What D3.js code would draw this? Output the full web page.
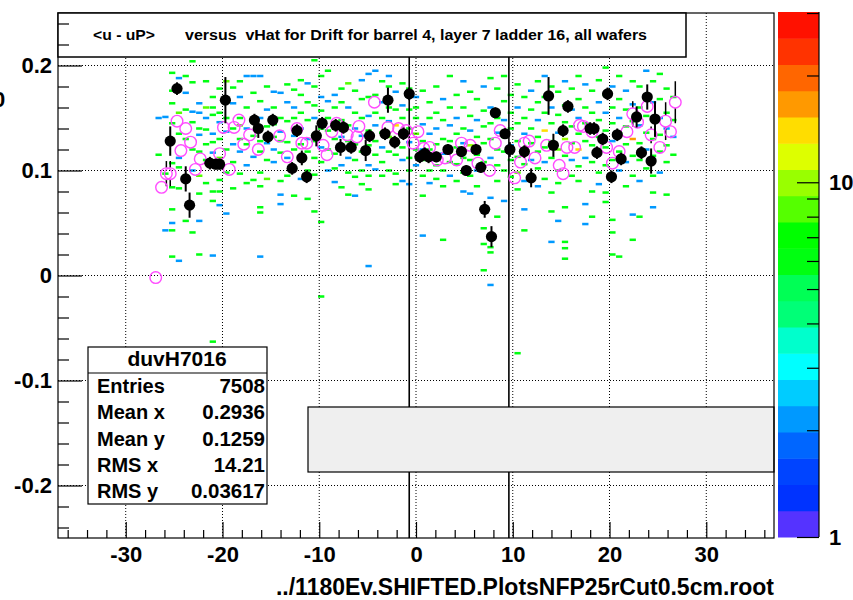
<!DOCTYPE html>
<html>
<head>
<meta charset="utf-8">
<script src="https://cdn.jsdelivr.net/npm/d3@7/dist/d3.min.js"></script>
<style>
  body { margin: 0; background: #fff; }
  text { font-family: "Liberation Sans", Arial, sans-serif; font-weight: bold; }
</style>
</head>
<body>
<script>
// ── data ──────────────────────────────────────────────────────────────────
var xTicks      = [-30, -20, -10, 0, 10, 20, 30];
var yTicks      = [-0.2, -0.1, 0, 0.1, 0.2];
var yTickLabels = ['-0.2', '-0.1', '0', '0.1', '0.2'];
var zMajor      = [1, 10];
var zMinor      = [2, 3, 4, 5, 6, 7, 8, 9, 20, 30];
var cutLines    = [-0.7, 9.6];

var titleLeft   = '<u - uP>';
var titleRight  = 'versus  vHat for Drift for barrel 4, layer 7 ladder 16, all wafers';
var xTitle      = '../1180Ev.SHIFTED.PlotsNFP25rCut0.5cm.root';
var statName    = 'duvH7016';
var statLabels  = ['Entries', 'Mean x', 'Mean y', 'RMS x', 'RMS y'];
var statValues  = ['7508', '0.2936', '0.1259', '14.21', '0.03617'];

// 2D histogram bins: [x, y, content]
var bins = [
  [-26.6,0.150,2],[-26.6,0.115,6],
  [-25.9,0.151,2],[-25.9,0.043,2],[-25.9,0.097,6],
  [-25.2,0.193,6],[-25.2,0.176,6],[-25.2,0.164,6],[-25.2,0.145,6],[-25.2,0.107,6],[-25.2,0.084,6],[-25.2,0.063,6],[-25.2,0.043,6],[-25.2,0.018,6],[-25.2,0.050,2],
  [-24.5,0.188,2],[-24.5,0.155,8.5],[-24.5,0.135,6],[-24.5,0.112,2],[-24.5,0.103,6],[-24.5,0.083,6],[-24.5,0.014,2],
  [-23.8,0.190,6],[-23.8,0.174,2],[-23.8,0.158,6],[-23.8,0.130,6],[-23.8,0.052,6],[-23.8,0.095,6],
  [-23.1,0.204,6],[-23.1,0.184,6],[-23.1,0.156,2],[-23.1,0.146,6],[-23.1,0.120,6],[-23.1,0.100,2],[-23.1,0.041,6],
  [-22.4,0.164,2],[-22.4,0.155,2],[-22.4,0.134,2],[-22.4,0.140,6],[-22.4,0.118,6],[-22.4,0.095,8.5],[-22.4,0.078,6],[-22.4,0.052,2],[-22.4,0.020,6],
  [-21.7,0.185,6],[-21.7,0.160,8.5],[-21.7,0.150,2],[-21.7,0.139,6],[-21.7,0.125,6],[-21.7,0.110,6],[-21.7,0.088,6],
  [-21.0,0.170,6],[-21.0,0.160,6],[-21.0,0.153,6],[-21.0,0.135,2],[-21.0,0.127,6],[-21.0,0.117,2],[-21.0,0.080,6],[-21.0,0.071,6],[-21.0,0.019,2],[-21.0,-0.063,6],
  [-20.3,0.178,6],[-20.3,0.155,6],[-20.3,0.146,2],[-20.3,0.130,6],[-20.3,0.112,8.5],[-20.3,0.091,6],[-20.3,0.080,6],[-20.3,0.067,2],
  [-19.6,0.185,8.5],[-19.6,0.150,6],[-19.6,0.137,2],[-19.6,0.120,6],[-19.6,0.098,6],[-19.6,0.059,2],
  [-18.9,0.179,6],[-18.9,0.164,2],[-18.9,0.140,6],[-18.9,0.125,2],[-18.9,0.108,6],[-18.9,0.083,6],
  [-18.2,0.185,6],[-18.2,0.170,2],[-18.2,0.150,6],[-18.2,0.143,8.5],[-18.2,0.130,6],[-18.2,0.118,2],[-18.2,0.097,6],
  [-17.5,0.190,2],[-17.5,0.160,6],[-17.5,0.140,2],[-17.5,0.125,6],[-17.5,0.105,2],[-17.5,0.088,6],
  [-16.8,0.190,2],[-16.8,0.174,6],[-16.8,0.146,6],[-16.8,0.133,6],[-16.8,0.113,2],[-16.8,0.091,6],
  [-16.1,0.190,2],[-16.1,0.166,6],[-16.1,0.150,2],[-16.1,0.128,6],[-16.1,0.118,6],[-16.1,0.098,6],[-16.1,0.085,6],[-16.1,0.065,6],[-16.1,0.060,6],[-16.1,0.018,2],
  [-15.4,0.180,6],[-15.4,0.158,2],[-15.4,0.142,6],[-15.4,0.126,2],[-15.4,0.110,6],[-15.4,0.092,8.5],
  [-14.7,0.175,2],[-14.7,0.160,6],[-14.7,0.144,6],[-14.7,0.132,6],[-14.7,0.120,2],[-14.7,0.108,2],
  [-14.0,0.174,2],[-14.0,0.150,6],[-14.0,0.137,2],[-14.0,0.128,6],[-14.0,0.117,6],[-14.0,0.090,6],[-14.0,0.077,2],[-14.0,0.068,2],
  [-13.3,0.182,6],[-13.3,0.165,2],[-13.3,0.147,6],[-13.3,0.127,6],[-13.3,0.112,2],[-13.3,0.095,6],
  [-12.6,0.177,6],[-12.6,0.160,2],[-12.6,0.150,6],[-12.6,0.133,2],[-12.6,0.120,6],[-12.6,0.102,6],[-12.6,0.076,6],
  [-11.9,0.186,6],[-11.9,0.172,6],[-11.9,0.155,6],[-11.9,0.140,2],[-11.9,0.125,6],[-11.9,0.110,6],[-11.9,0.092,2],
  [-11.2,0.183,2],[-11.2,0.165,6],[-11.2,0.148,6],[-11.2,0.130,2],[-11.2,0.118,6],[-11.2,0.100,6],[-11.2,0.073,6],
  [-10.5,0.205,6],[-10.5,0.180,6],[-10.5,0.162,6],[-10.5,0.150,2],[-10.5,0.128,6],[-10.5,0.112,6],[-10.5,0.096,6],[-10.5,0.061,6],
  [-9.8,0.190,6],[-9.8,0.170,2],[-9.8,0.157,6],[-9.8,0.140,6],[-9.8,0.122,2],[-9.8,0.108,6],[-9.8,0.051,6],[-9.8,-0.020,6],
  [-9.1,0.195,6],[-9.1,0.166,2],[-9.1,0.150,6],[-9.1,0.138,6],[-9.1,0.120,6],[-9.1,0.100,2],
  [-8.4,0.172,2],[-8.4,0.160,6],[-8.4,0.145,2],[-8.4,0.130,6],[-8.4,0.116,6],[-8.4,0.102,6],[-8.4,0.089,2],
  [-7.7,0.178,6],[-7.7,0.165,6],[-7.7,0.148,6],[-7.7,0.132,2],[-7.7,0.120,6],[-7.7,0.105,2],[-7.7,0.084,6],
  [-7.0,0.183,8.5],[-7.0,0.160,2],[-7.0,0.143,6],[-7.0,0.128,6],[-7.0,0.112,2],[-7.0,0.098,6],[-7.0,0.077,6],
  [-6.3,0.176,6],[-6.3,0.155,6],[-6.3,0.140,2],[-6.3,0.125,6],[-6.3,0.110,6],[-6.3,0.094,6],[-6.3,0.076,2],
  [-5.6,0.186,2],[-5.6,0.168,6],[-5.6,0.150,6],[-5.6,0.133,2],[-5.6,0.118,6],[-5.6,0.100,6],[-5.6,0.087,6],
  [-4.9,0.192,2],[-4.9,0.170,6],[-4.9,0.152,2],[-4.9,0.138,6],[-4.9,0.124,6],[-4.9,0.105,2],[-4.9,0.095,6],[-4.9,0.082,6],[-4.9,0.009,2],
  [-4.2,0.195,2],[-4.2,0.172,6],[-4.2,0.155,6],[-4.2,0.143,2],[-4.2,0.128,6],[-4.2,0.115,6],[-4.2,0.101,2],
  [-3.5,0.185,6],[-3.5,0.165,2],[-3.5,0.150,6],[-3.5,0.136,6],[-3.5,0.122,2],[-3.5,0.108,6],[-3.5,0.095,6],
  [-2.8,0.190,2],[-2.8,0.180,6],[-2.8,0.160,6],[-2.8,0.147,2],[-2.8,0.132,8.5],[-2.8,0.118,6],[-2.8,0.100,6],
  [-2.1,0.175,2],[-2.1,0.158,6],[-2.1,0.143,14],[-2.1,0.128,2],[-2.1,0.115,6],[-2.1,0.097,6],[-2.1,0.087,6],
  [-1.4,0.183,6],[-1.4,0.162,2],[-1.4,0.150,6],[-1.4,0.137,10],[-1.4,0.122,6],[-1.4,0.110,2],[-1.4,0.090,2],
  [-0.7,0.178,6],[-0.7,0.158,6],[-0.7,0.140,6],[-0.7,0.127,2],[-0.7,0.112,6],[-0.7,0.100,6],[-0.7,0.087,2],
  [0.0,0.170,2],[0.0,0.160,6],[0.0,0.150,6],[0.0,0.135,8.5],[0.0,0.120,6],[0.0,0.105,2],
  [0.7,0.176,6],[0.7,0.144,2],[0.7,0.128,6],[0.7,0.120,2],[0.7,0.110,6],[0.7,0.095,6],[0.7,0.076,6],[0.7,0.038,2],
  [1.4,0.165,6],[1.4,0.150,6],[1.4,0.135,2],[1.4,0.120,6],[1.4,0.110,2],[1.4,0.100,6],[1.4,0.088,2],
  [2.1,0.180,6],[2.1,0.155,6],[2.1,0.140,2],[2.1,0.125,6],[2.1,0.105,6],[2.1,0.092,6],
  [2.8,0.168,2],[2.8,0.148,6],[2.8,0.130,6],[2.8,0.116,2],[2.8,0.100,6],[2.8,0.085,6],[2.8,0.034,6],
  [3.5,0.190,6],[3.5,0.160,6],[3.5,0.143,2],[3.5,0.128,6],[3.5,0.118,8.5],[3.5,0.108,6],[3.5,0.095,2],
  [4.2,0.172,6],[4.2,0.150,2],[4.2,0.135,6],[4.2,0.122,6],[4.2,0.106,6],[4.2,0.090,6],
  [4.9,0.185,2],[4.9,0.160,6],[4.9,0.140,6],[4.9,0.126,2],[4.9,0.112,6],[4.9,0.098,6],[4.9,0.080,2],
  [5.6,0.175,6],[5.6,0.152,6],[5.6,0.138,2],[5.6,0.124,10],[5.6,0.110,6],[5.6,0.095,6],[5.6,0.078,2],
  [6.3,0.168,6],[6.3,0.148,2],[6.3,0.132,6],[6.3,0.115,6],[6.3,0.100,2],[6.3,0.085,6],
  [7.0,0.180,2],[7.0,0.157,6],[7.0,0.142,6],[7.0,0.126,6],[7.0,0.108,6],[7.0,0.045,6],[7.0,0.030,6],[7.0,0.005,6],
  [7.7,0.188,6],[7.7,0.160,2],[7.7,0.145,6],[7.7,0.130,6],[7.7,0.112,2],[7.7,0.074,2],[7.7,0.027,6],[7.7,0.022,6],[7.7,-0.009,2],
  [8.4,0.178,6],[8.4,0.150,6],[8.4,0.136,2],[8.4,0.120,6],[8.4,0.105,6],[8.4,0.090,6],[8.4,0.056,6],
  [9.1,0.190,6],[9.1,0.166,6],[9.1,0.148,2],[9.1,0.132,6],[9.1,0.118,6],[9.1,0.100,6],[9.1,0.071,2],
  [9.8,0.172,6],[9.8,0.155,6],[9.8,0.140,6],[9.8,0.124,2],[9.8,0.110,6],[9.8,0.094,6],
  [10.5,0.182,6],[10.5,0.160,2],[10.5,0.145,6],[10.5,0.128,6],[10.5,0.113,6],[10.5,0.098,8.5],[10.5,0.082,6],[10.5,-0.074,6],
  [11.2,0.170,6],[11.2,0.150,6],[11.2,0.135,2],[11.2,0.120,6],[11.2,0.106,6],[11.2,0.090,2],[11.2,0.063,2],[11.2,0.043,6],
  [11.9,0.176,2],[11.9,0.158,6],[11.9,0.140,6],[11.9,0.126,6],[11.9,0.110,2],[11.9,0.096,6],
  [12.6,0.185,6],[12.6,0.165,6],[12.6,0.148,2],[12.6,0.132,6],[12.6,0.118,6],[12.6,0.102,6],[12.6,0.085,2],
  [13.3,0.190,2],[13.3,0.170,6],[13.3,0.155,6],[13.3,0.138,14],[13.3,0.122,6],[13.3,0.108,2],[13.3,0.092,6],
  [14.0,0.180,6],[14.0,0.160,2],[14.0,0.145,6],[14.0,0.128,6],[14.0,0.112,6],[14.0,0.079,6],[14.0,0.061,6],[14.0,0.032,2],
  [14.7,0.175,6],[14.7,0.153,6],[14.7,0.136,2],[14.7,0.120,8.5],[14.7,0.100,6],[14.7,0.088,6],[14.7,0.052,2],
  [15.4,0.185,2],[15.4,0.162,6],[15.4,0.146,6],[15.4,0.130,10],[15.4,0.114,6],[15.4,0.065,6],[15.4,0.032,6],[15.4,0.026,6],[15.4,0.016,6],
  [16.1,0.178,6],[16.1,0.158,2],[16.1,0.142,6],[16.1,0.126,6],[16.1,0.110,2],[16.1,0.095,6],
  [16.8,0.190,6],[16.8,0.168,6],[16.8,0.150,2],[16.8,0.135,6],[16.8,0.120,14],[16.8,0.104,6],[16.8,0.090,6],
  [17.5,0.182,2],[17.5,0.160,6],[17.5,0.145,6],[17.5,0.128,6],[17.5,0.112,2],[17.5,0.068,2],[17.5,0.049,2],
  [18.2,0.176,6],[18.2,0.155,6],[18.2,0.140,2],[18.2,0.124,6],[18.2,0.108,6],[18.2,0.080,6],[18.2,0.056,6],
  [18.9,0.186,6],[18.9,0.165,2],[18.9,0.148,6],[18.9,0.132,6],[18.9,0.116,2],[18.9,0.098,6],[18.9,0.087,2],
  [19.6,0.198,6],[19.6,0.172,6],[19.6,0.155,2],[19.6,0.138,6],[19.6,0.122,6],[19.6,0.105,6],[19.6,0.079,6],[19.6,0.070,6],
  [20.3,0.180,2],[20.3,0.160,6],[20.3,0.145,6],[20.3,0.128,2],[20.3,0.110,6],[20.3,0.092,6],[20.3,0.053,6],[20.3,0.041,6],[20.3,0.020,6],
  [21.0,0.190,6],[21.0,0.168,6],[21.0,0.150,2],[21.0,0.135,6],[21.0,0.118,6],[21.0,0.100,2],[21.0,0.018,6],
  [21.7,0.176,2],[21.7,0.158,6],[21.7,0.142,6],[21.7,0.125,6],[21.7,0.108,2],[21.7,0.085,6],
  [22.4,0.185,6],[22.4,0.163,2],[22.4,0.147,6],[22.4,0.130,17],[22.4,0.114,6],[22.4,0.095,6],[22.4,0.058,2],[22.4,0.034,6],
  [23.1,0.180,6],[23.1,0.160,6],[23.1,0.143,2],[23.1,0.126,6],[23.1,0.110,6],[23.1,0.090,2],[23.1,0.056,6],
  [23.8,0.195,2],[23.8,0.170,6],[23.8,0.152,6],[23.8,0.136,6],[23.8,0.120,2],[23.8,0.102,6],
  [24.5,0.185,6],[24.5,0.165,2],[24.5,0.148,6],[24.5,0.130,6],[24.5,0.114,6],[24.5,0.095,6],[24.5,0.079,6],[24.5,0.065,2],
  [25.2,0.192,6],[25.2,0.168,6],[25.2,0.150,2],[25.2,0.134,6],[25.2,0.118,6],[25.2,0.098,2],
  [25.9,0.178,6],[25.9,0.155,6],[25.9,0.140,2],[25.9,0.124,6],[25.9,0.108,6],[25.9,0.077,6],
  [26.6,0.170,6],[26.6,0.148,6],[26.6,0.132,2],[26.6,0.115,6]
];

// black profile (filled markers)
var blackX   = [-25.4,-24.7,-23.8,-23.4,-21.3,-20.7,-20.3,-19.7,-16.7,-16.3,-15.3,-14.8,-12.8,-12.3,-11.8,-11.3,-10.3,-9.7,-8.3,-7.5,-7.8,-6.7,-5.2,-4.8,-3.2,-2.9,-2.2,-1.3,-0.7,
                0.4,0.9,1.3,2.1,3.3,4.7,5.2,6.2,6.7,7.1,7.8,8.2,9.2,9.7,11.2,11.9,13.7,14.2,15.2,15.7,18.0,18.4,18.7,19.3,19.8,20.2,20.8,21.2,22.8,23.3,23.9,24.3,24.7];
var blackY   = [0.128,0.178,0.092,0.067,0.107,0.106,0.106,0.167,0.148,0.140,0.132,0.148,0.102,0.138,0.112,0.094,0.133,0.145,0.143,0.141,0.122,0.122,0.119,0.133,0.135,0.167,0.127,0.135,0.173,
                0.113,0.116,0.113,0.113,0.120,0.118,0.100,0.120,0.103,0.063,0.037,0.155,0.135,0.120,0.118,0.093,0.171,0.124,0.138,0.161,0.140,0.140,0.117,0.130,0.173,0.094,0.134,0.111,0.151,0.117,0.170,0.109,0.149];
var blackErr = [0.014,0.006,0.012,0.012,0.006,0.005,0.005,0.022,0.006,0.009,0.006,0.006,0.006,0.006,0.007,0.006,0.010,0.006,0.006,0.006,0.008,0.006,0.010,0.006,0.006,0.012,0.006,0.006,0.006,
                0.006,0.006,0.006,0.005,0.005,0.005,0.005,0.005,0.005,0.008,0.010,0.005,0.005,0.007,0.006,0.009,0.018,0.011,0.006,0.006,0.006,0.006,0.006,0.006,0.006,0.006,0.006,0.006,0.010,0.006,0.012,0.012,0.017];

// magenta profile (open markers)
var openX   = [-26.9,-26.3,-25.8,-25.4,-24.7,-24.3,-23.8,-23.3,-22.8,-22.3,-20.3,-19.3,-19.9,-18.8,-18.3,-17.8,-17.2,-16.3,-14.1,-13.3,-12.3,-11.8,-11.3,-9.6,-9.2,-8.7,-8.2,-7.1,-5.9,-6.1,-4.3,-2.9,-1.8,-1.0,-0.3,
               0.2,0.8,1.4,2.2,3.0,4.2,4.7,5.6,6.4,7.6,8.2,8.7,10.2,10.8,11.2,11.7,12.3,13.5,14.8,15.2,15.6,16.4,16.9,17.3,18.2,19.7,20.3,21.0,21.8,22.4,22.9,23.9,24.3,25.2,25.8,26.3,26.8];
var openY   = [-0.002,0.084,0.097,0.097,0.147,0.119,0.140,0.127,0.101,0.111,0.116,0.101,0.141,0.141,0.148,0.125,0.134,0.120,0.133,0.113,0.140,0.126,0.126,0.124,0.115,0.137,0.145,0.134,0.142,0.132,0.165,0.141,0.140,0.138,0.126,
               0.137,0.121,0.122,0.110,0.112,0.110,0.126,0.124,0.107,0.100,0.126,0.138,0.093,0.108,0.126,0.128,0.112,0.124,0.105,0.097,0.122,0.122,0.143,0.142,0.137,0.122,0.107,0.118,0.137,0.154,0.146,0.161,0.134,0.122,0.147,0.137,0.165];
var openErr = [0.003,0.004,0.012,0.012,0.004,0.004,0.004,0.004,0.004,0.004,0.004,0.004,0.004,0.004,0.004,0.004,0.004,0.004,0.004,0.004,0.004,0.004,0.004,0.004,0.004,0.004,0.004,0.004,0.004,0.004,0.004,0.004,0.004,0.004,0.004,
               0.004,0.004,0.004,0.004,0.004,0.004,0.004,0.004,0.004,0.004,0.004,0.004,0.004,0.004,0.004,0.004,0.004,0.004,0.004,0.004,0.004,0.004,0.004,0.004,0.004,0.004,0.004,0.004,0.004,0.012,0.004,0.004,0.008,0.004,0.018,0.004,0.020];

// ── geometry ──────────────────────────────────────────────────────────────
var W = 853, H = 600;
var fL = 58, fR = 774, fT = 13, fB = 538;
var cbL = 778, cbR = 819, cbT = 12, cbB = 537;
var font = '"Liberation Sans", Arial, sans-serif';
var openR = 5.8, fullR = 5.6;

// ROOT default palette, 20 contour bands (bottom → top)
var bandColors = ['#5533ff','#0033ff','#0044ff','#0066ff','#0099ff','#00ccff','#00ffff','#00ffcc','#00ff77','#00ff55',
                  '#00ff11','#00ff00','#55ff00','#99ff00','#ddff00','#ffdd00','#ff9900','#ff6600','#ff3300','#ff1100'];

var x = d3.scaleLinear().domain([-37, 37]).range([fL, fR]);
var y = d3.scaleLinear().domain([-0.25, 0.25]).range([fB, fT]);
var z = d3.scaleLog().domain([1, 30.2]).range([cbB, cbT]);
var bandH = (cbB - cbT) / bandColors.length;
function colorOf(v) {
    var k = Math.floor((cbB - z(v)) / bandH);
    return bandColors[Math.max(0, Math.min(bandColors.length - 1, k))];
}
function fmtTick(d) { return String(d); }   // plain hyphen minus like ROOT

var svg = d3.select('body').append('svg').attr('width', W).attr('height', H);
svg.append('defs').append('clipPath').attr('id', 'frame')
    .append('rect').attr('x', fL).attr('y', fT).attr('width', fR - fL).attr('height', fB - fT);
var plot = svg.append('g').attr('clip-path', 'url(#frame)');

// ── histogram bins ────────────────────────────────────────────────────────
var bw = x(0.65) - x(0), bh = y(0) - y(0.0024);
plot.selectAll('rect.bin').data(bins).enter().append('rect')
    .attr('x', function (d) { return x(d[0]) - bw / 2; })
    .attr('y', function (d) { return y(d[1]) - bh / 2; })
    .attr('width', bw).attr('height', bh)
    .attr('fill', function (d) { return colorOf(d[2]); });

// ── grid ──────────────────────────────────────────────────────────────────
plot.selectAll('line.gx').data(xTicks).enter().append('line')
    .attr('x1', x).attr('x2', x).attr('y1', fT).attr('y2', fB)
    .attr('stroke', '#000').attr('stroke-width', 1).attr('stroke-dasharray', '1,2');
plot.selectAll('line.gy').data(yTicks).enter().append('line')
    .attr('x1', fL).attr('x2', fR).attr('y1', y).attr('y2', y)
    .attr('stroke', '#000').attr('stroke-width', 1).attr('stroke-dasharray', '1,2');

// solid cut lines
plot.selectAll('line.cut').data(cutLines).enter().append('line')
    .attr('x1', x).attr('x2', x).attr('y1', fT).attr('y2', fB)
    .attr('stroke', '#000').attr('stroke-width', 1.6);

// ── profiles ──────────────────────────────────────────────────────────────
// error bars are only drawn outside the marker, as ROOT does
function errBar(px, py, e, r, w) {
    var top = y(py + e), bot = y(py - e), cy = y(py);
    if (cy - top > r) plot.append('line').attr('x1', px).attr('x2', px).attr('y1', top).attr('y2', cy - r)
        .attr('stroke', '#000').attr('stroke-width', w);
    if (bot - cy > r) plot.append('line').attr('x1', px).attr('x2', px).attr('y1', cy + r).attr('y2', bot)
        .attr('stroke', '#000').attr('stroke-width', w);
}
openX.forEach(function (v, i) { errBar(x(v), openY[i], openErr[i], openR, 1.5); });
plot.selectAll('circle.open').data(openX).enter().append('circle')
    .attr('cx', function (d) { return x(d); })
    .attr('cy', function (d, i) { return y(openY[i]); })
    .attr('r', openR).attr('fill', 'none')
    .attr('stroke', '#ff4cff').attr('stroke-width', 1.4);

blackX.forEach(function (v, i) { errBar(x(v), blackY[i], blackErr[i], 0, 2); });
plot.selectAll('circle.full').data(blackX).enter().append('circle')
    .attr('cx', function (d) { return x(d); })
    .attr('cy', function (d, i) { return y(blackY[i]); })
    .attr('r', fullR).attr('fill', '#000');

// ── boxes ─────────────────────────────────────────────────────────────────
svg.append('rect').attr('x', 308).attr('y', 407).attr('width', fR - 308).attr('height', 65)
    .attr('fill', '#efefef').attr('stroke', '#000').attr('stroke-width', 1.2);

// frame
svg.append('rect').attr('x', fL).attr('y', fT).attr('width', fR - fL).attr('height', fB - fT)
    .attr('fill', 'none').attr('stroke', '#000').attr('stroke-width', 1.2);

// title box
svg.append('rect').attr('x', fL).attr('y', fT).attr('width', 628).attr('height', 44)
    .attr('fill', '#fff').attr('stroke', '#000').attr('stroke-width', 1.5);
svg.append('text').attr('x', 93).attr('y', 40).attr('font-size', '14.5px')
    .attr('textLength', 62).attr('lengthAdjust', 'spacingAndGlyphs').text(titleLeft);
svg.append('text').attr('x', 185).attr('y', 40).attr('font-size', '14.5px')
    .attr('xml:space', 'preserve').style('white-space', 'pre')
    .attr('textLength', 462).attr('lengthAdjust', 'spacingAndGlyphs').text(titleRight);

// stats box
svg.append('rect').attr('x', 88).attr('y', 347).attr('width', 179).attr('height', 157)
    .attr('fill', '#fff').attr('stroke', '#000').attr('stroke-width', 1.2);
svg.append('line').attr('x1', 88).attr('x2', 267).attr('y1', 373).attr('y2', 373)
    .attr('stroke', '#000').attr('stroke-width', 1.2);
svg.append('text').attr('x', 177).attr('y', 366).attr('text-anchor', 'middle')
    .attr('font-size', '21px').text(statName);
statLabels.forEach(function (s, i) {
    var by = 393 + i * 26.3;
    svg.append('text').attr('x', 97).attr('y', by).attr('font-size', '20px').text(s);
    svg.append('text').attr('x', 265).attr('y', by).attr('text-anchor', 'end')
        .attr('font-size', '20.5px').text(statValues[i]);
});

// ── axes ──────────────────────────────────────────────────────────────────
function styleAxis(g, size) {
    g.select('.domain').remove();
    g.selectAll('line').attr('stroke', '#000').attr('stroke-width', 1.2);
    g.selectAll('text').attr('font-family', font).attr('font-weight', 'bold')
        .attr('font-size', size).attr('fill', '#000');
}
var yMinor = d3.range(-24, 25, 2).map(function (v) { return v / 100; })
    .filter(function (v) { return Math.abs(Math.round(v * 10) - v * 10) > 1e-6; });
svg.append('g').attr('transform', 'translate(' + fL + ',0)')
    .call(d3.axisLeft(y).tickValues(yMinor).tickSizeInner(-11).tickFormat(''))
    .call(styleAxis, '22px');
svg.append('g').attr('transform', 'translate(' + fL + ',0)')
    .call(d3.axisLeft(y).tickValues(yTicks).tickSizeInner(-24).tickPadding(6)
        .tickFormat(function (d, i) { return yTickLabels[i]; }))
    .call(styleAxis, '22px');

var xMinor = d3.range(-36, 37, 2).filter(function (v) { return v % 10 !== 0; });
svg.append('g').attr('transform', 'translate(0,' + fB + ')')
    .call(d3.axisBottom(x).tickValues(xMinor).tickSizeInner(-8).tickFormat(''))
    .call(styleAxis, '22px');
svg.append('g').attr('transform', 'translate(0,' + fB + ')')
    .call(d3.axisBottom(x).tickValues(xTicks).tickSizeInner(-16).tickPadding(8).tickFormat(fmtTick))
    .call(styleAxis, '22px');

svg.append('text').attr('x', fR).attr('y', 595).attr('text-anchor', 'end')
    .attr('font-size', '23px').text(xTitle);
// clipped y-axis title remnant at the left edge, as in the reference
svg.append('text').attr('x', -7).attr('y', 107).attr('font-size', '22px').text('0');

// ── colour bar ────────────────────────────────────────────────────────────
svg.selectAll('rect.band').data(bandColors).enter().append('rect')
    .attr('x', cbL).attr('width', cbR - cbL)
    .attr('y', function (d, i) { return cbB - (i + 1) * bandH; })
    .attr('height', bandH + 0.5)
    .attr('fill', function (d) { return d; });
svg.append('g').attr('transform', 'translate(' + cbR + ',0)')
    .call(d3.axisRight(z).tickValues(zMinor).tickSizeInner(-12).tickFormat(''))
    .call(styleAxis, '22px');
svg.append('g').attr('transform', 'translate(' + cbR + ',0)')
    .call(d3.axisRight(z).tickValues(zMajor).tickSizeInner(-22).tickPadding(10).tickFormat(fmtTick))
    .call(styleAxis, '22px');
svg.append('line').attr('x1', cbR).attr('x2', cbR).attr('y1', cbT).attr('y2', cbB)
    .attr('stroke', '#000').attr('stroke-width', 1.2);
</script>
</body>
</html>
